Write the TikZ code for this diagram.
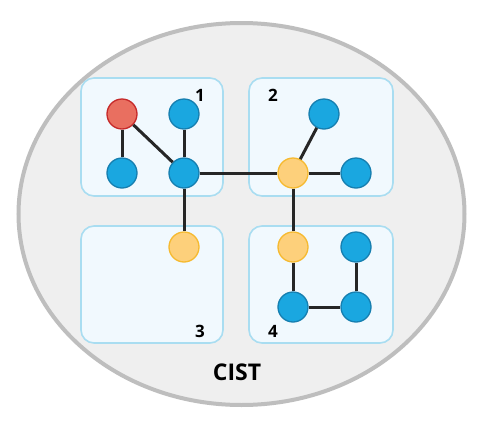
\documentclass[tikz,border=0pt]{standalone}
\usepackage{fontspec}
\setmainfont{Open Sans}
\definecolor{bluefill}{HTML}{1AA7E0}
\definecolor{blueline}{HTML}{167FB0}
\definecolor{redfill}{HTML}{E96F60}
\definecolor{redline}{HTML}{C62A2A}
\definecolor{yelfill}{HTML}{FDD07B}
\definecolor{yelline}{HTML}{F6BA30}
\definecolor{boxfill}{HTML}{F1F9FE}
\definecolor{boxline}{HTML}{A9DDF1}
\definecolor{ellfill}{HTML}{EFEFEF}
\definecolor{ellline}{HTML}{BEBEBE}
\tikzset{
  vtx/.style={circle, minimum size=30pt, inner sep=0pt, line width=1.3pt},
  bv/.style={vtx, fill=bluefill, draw=blueline},
  rv/.style={vtx, fill=redfill, draw=redline},
  yv/.style={vtx, fill=yelfill, draw=yelline},
  region/.style={draw=boxline, fill=boxfill, line width=1.6pt, rounded corners=13pt},
  edge/.style={line width=3pt, draw=black!85},
  num/.style={font=\bfseries\fontsize{17}{17}\selectfont, inner sep=0pt}
}
\begin{document}
\begin{tikzpicture}[x=1pt,y=-1pt]
\useasboundingbox (0,0) rectangle (483,421);
\fill[white] (0,0) rectangle (483,421);
\draw[fill=ellfill, draw=ellline, line width=4pt] (241.5,214) ellipse [x radius=223, y radius=191];
\draw[region] (81,78) rectangle (223,196);
\draw[region] (249,78) rectangle (393,196);
\draw[region] (81,226) rectangle (223,343);
\draw[region] (249,226) rectangle (393,343);
\node[num] (l1) at (200,95) {1};
\node[num] (l2) at (273,95) {2};
\node[num] (l3) at (200,331) {3};
\node[num] (l4) at (273,331) {4};
\node[font=\bfseries\fontsize{23}{23}\selectfont, inner sep=0pt] (cist) at (237,372) {CIST};
% vertices
\node[rv] (r) at (122,114) {};
\node[bv] (a) at (184,114) {};
\node[bv] (b) at (122,173) {};
\node[bv] (h) at (184,173) {};
\node[bv] (c) at (324,114) {};
\node[yv] (y2) at (293,173) {};
\node[bv] (d) at (356,173) {};
\node[yv] (y3) at (184,247) {};
\node[yv] (y4) at (293,247) {};
\node[bv] (e) at (356,247) {};
\node[bv] (f) at (293,307) {};
\node[bv] (g) at (356,307) {};
% edges
\draw[edge] (r) -- (b);
\draw[edge] (r) -- (h);
\draw[edge] (a) -- (h);
\draw[edge] (h) -- (y2);
\draw[edge] (h) -- (y3);
\draw[edge] (y2) -- (c);
\draw[edge] (y2) -- (d);
\draw[edge] (y2) -- (y4);
\draw[edge] (y4) -- (f);
\draw[edge] (f) -- (g);
\draw[edge] (g) -- (e);
\end{tikzpicture}
\end{document}
